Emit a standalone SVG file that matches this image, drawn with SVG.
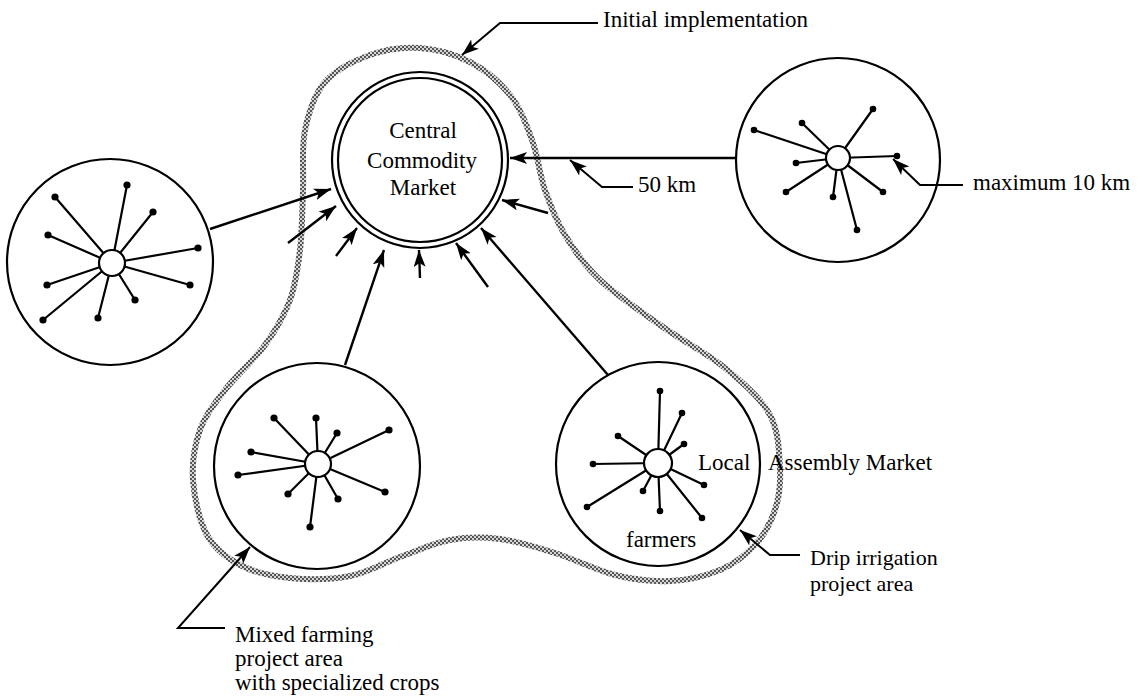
<svg xmlns="http://www.w3.org/2000/svg" width="1146" height="698" viewBox="0 0 1146 698">
<defs>
<pattern id="stipple" width="4" height="4" patternUnits="userSpaceOnUse">
<rect width="4" height="4" fill="#d6d6d6"/>
<rect x="0" y="0" width="2" height="2" fill="#555"/>
<rect x="2" y="2" width="2" height="2" fill="#555"/>
</pattern>
<marker id="ah" markerWidth="19" markerHeight="13" refX="17" refY="6" orient="auto" markerUnits="userSpaceOnUse">
<path d="M0,0 L17,6 L0,12 L4,6 z" fill="#000"/>
</marker>
<style>
.ring{fill:none;stroke:#000;stroke-width:2.2}
.spoke{stroke:#000;stroke-width:2.2;stroke-linecap:round}
.dot{fill:#000}
.hub{fill:#fff;stroke:#000;stroke-width:2.2}
.con{fill:none;stroke:#000;stroke-width:2.4;marker-end:url(#ah)}
.ptr{fill:none;stroke:#000;stroke-width:2;marker-end:url(#ah)}
text{font-family:"Liberation Serif","Times New Roman",serif;font-size:23px;fill:#000}
</style>
</defs>
<rect width="1146" height="698" fill="#fff"/>

<g id="boundary">
<path fill="none" stroke="url(#stipple)" stroke-width="6" d="M420,48 C436.7,49.2 455,54.2 470,62 C485,69.8 499.7,82 510,95 C520.3,108 526.2,124.2 532,140 C537.8,155.8 539.5,174.2 545,190 C550.5,205.8 555.8,220 565,235 C574.2,250 583.7,264.7 600,280 C616.3,295.3 642.2,312.3 663,327 C683.8,341.7 707.2,353.3 725,368 C742.8,382.7 760.8,398 770,415 C779.2,432 779.2,454.2 780,470 C780.8,485.8 779.2,497.5 775,510 C770.8,522.5 764.2,535 755,545 C745.8,555 734.2,564 720,570 C705.8,576 687.5,580.2 670,581 C652.5,581.8 634.2,579.7 615,575 C595.8,570.3 574.2,559 555,553 C535.8,547 517.5,541.2 500,539 C482.5,536.8 466.7,537 450,540 C433.3,543 416.7,551 400,557 C383.3,563 368.3,572.5 350,576 C331.7,579.5 308.3,579.8 290,578 C271.7,576.2 253.8,572.2 240,565 C226.2,557.8 214.8,549.2 207,535 C199.2,520.8 194.2,497.5 193,480 C191.8,462.5 194.7,445 200,430 C205.3,415 214.2,404.2 225,390 C235.8,375.8 254.2,360 265,345 C275.8,330 284.2,315.8 290,300 C295.8,284.2 297.8,268.3 300,250 C302.2,231.7 302.2,210 303,190 C303.8,170 301.3,148 305,130 C308.7,112 314.2,94.5 325,82 C335.8,69.5 354.2,60.7 370,55 C385.8,49.3 403.3,46.8 420,48 Z"/>
</g>

<g id="central-market">
<circle class="ring" cx="420" cy="160" r="88"/>
<circle class="ring" cx="420" cy="160" r="82"/>
<text x="423" y="138" text-anchor="middle">Central</text>
<text x="422" y="168" text-anchor="middle">Commodity</text>
<text x="423" y="195" text-anchor="middle">Market</text>
</g>

<g id="left-area">
<circle class="ring" cx="110" cy="262" r="103"/>
<line class="spoke" x1="112" y1="263" x2="55" y2="197"/>
<line class="spoke" x1="112" y1="263" x2="127" y2="185"/>
<line class="spoke" x1="112" y1="263" x2="153" y2="212"/>
<line class="spoke" x1="112" y1="263" x2="48" y2="235"/>
<line class="spoke" x1="112" y1="263" x2="198" y2="248"/>
<line class="spoke" x1="112" y1="263" x2="190" y2="285"/>
<line class="spoke" x1="112" y1="263" x2="47" y2="285"/>
<line class="spoke" x1="112" y1="263" x2="135" y2="300"/>
<line class="spoke" x1="112" y1="263" x2="43" y2="320"/>
<line class="spoke" x1="112" y1="263" x2="98" y2="318"/>
<circle class="dot" cx="55" cy="197" r="3.6"/>
<circle class="dot" cx="127" cy="185" r="3.6"/>
<circle class="dot" cx="153" cy="212" r="3.6"/>
<circle class="dot" cx="48" cy="235" r="3.6"/>
<circle class="dot" cx="198" cy="248" r="3.6"/>
<circle class="dot" cx="190" cy="285" r="3.6"/>
<circle class="dot" cx="47" cy="285" r="3.6"/>
<circle class="dot" cx="135" cy="300" r="3.6"/>
<circle class="dot" cx="43" cy="320" r="3.6"/>
<circle class="dot" cx="98" cy="318" r="3.6"/>
<circle class="hub" cx="112" cy="263" r="13"/>
</g>

<g id="right-area">
<circle class="ring" cx="838" cy="160" r="102"/>
<line class="spoke" x1="838" y1="158" x2="754" y2="130"/>
<line class="spoke" x1="838" y1="158" x2="802" y2="123"/>
<line class="spoke" x1="838" y1="158" x2="873" y2="109"/>
<line class="spoke" x1="838" y1="158" x2="796" y2="163"/>
<line class="spoke" x1="838" y1="158" x2="897" y2="156"/>
<line class="spoke" x1="838" y1="158" x2="786" y2="192"/>
<line class="spoke" x1="838" y1="158" x2="833" y2="197"/>
<line class="spoke" x1="838" y1="158" x2="857" y2="230"/>
<line class="spoke" x1="838" y1="158" x2="883" y2="192"/>
<circle class="dot" cx="754" cy="130" r="3.3"/>
<circle class="dot" cx="802" cy="123" r="3.3"/>
<circle class="dot" cx="873" cy="109" r="3.3"/>
<circle class="dot" cx="796" cy="163" r="3.3"/>
<circle class="dot" cx="897" cy="156" r="3.3"/>
<circle class="dot" cx="786" cy="192" r="3.3"/>
<circle class="dot" cx="833" cy="197" r="3.3"/>
<circle class="dot" cx="857" cy="230" r="3.3"/>
<circle class="dot" cx="883" cy="192" r="3.3"/>
<circle class="hub" cx="838" cy="158" r="12"/>
</g>

<g id="mixed-farming-area">
<circle class="ring" cx="317" cy="466" r="103"/>
<line class="spoke" x1="318" y1="464" x2="274" y2="418"/>
<line class="spoke" x1="318" y1="464" x2="316" y2="418"/>
<line class="spoke" x1="318" y1="464" x2="337" y2="433"/>
<line class="spoke" x1="318" y1="464" x2="389" y2="430"/>
<line class="spoke" x1="318" y1="464" x2="251" y2="452"/>
<line class="spoke" x1="318" y1="464" x2="238" y2="475"/>
<line class="spoke" x1="318" y1="464" x2="385" y2="492"/>
<line class="spoke" x1="318" y1="464" x2="288" y2="494"/>
<line class="spoke" x1="318" y1="464" x2="338" y2="499"/>
<line class="spoke" x1="318" y1="464" x2="310" y2="527"/>
<circle class="dot" cx="274" cy="418" r="3.6"/>
<circle class="dot" cx="316" cy="418" r="3.6"/>
<circle class="dot" cx="337" cy="433" r="3.6"/>
<circle class="dot" cx="389" cy="430" r="3.6"/>
<circle class="dot" cx="251" cy="452" r="3.6"/>
<circle class="dot" cx="238" cy="475" r="3.6"/>
<circle class="dot" cx="385" cy="492" r="3.6"/>
<circle class="dot" cx="288" cy="494" r="3.6"/>
<circle class="dot" cx="338" cy="499" r="3.6"/>
<circle class="dot" cx="310" cy="527" r="3.6"/>
<circle class="hub" cx="318" cy="464" r="13"/>
</g>

<g id="drip-irrigation-area">
<circle class="ring" cx="658" cy="464" r="102"/>
<line class="spoke" x1="658" y1="463" x2="660" y2="391"/>
<line class="spoke" x1="658" y1="463" x2="682" y2="413"/>
<line class="spoke" x1="658" y1="463" x2="618" y2="436"/>
<line class="spoke" x1="658" y1="463" x2="684" y2="444"/>
<line class="spoke" x1="658" y1="463" x2="593" y2="464"/>
<line class="spoke" x1="658" y1="463" x2="704" y2="485"/>
<line class="spoke" x1="658" y1="463" x2="587" y2="507"/>
<line class="spoke" x1="658" y1="463" x2="643" y2="491"/>
<line class="spoke" x1="658" y1="463" x2="660" y2="511"/>
<line class="spoke" x1="658" y1="463" x2="702" y2="518"/>
<circle class="dot" cx="660" cy="391" r="3.3"/>
<circle class="dot" cx="682" cy="413" r="3.3"/>
<circle class="dot" cx="618" cy="436" r="3.3"/>
<circle class="dot" cx="684" cy="444" r="3.3"/>
<circle class="dot" cx="593" cy="464" r="3.3"/>
<circle class="dot" cx="704" cy="485" r="3.3"/>
<circle class="dot" cx="587" cy="507" r="3.3"/>
<circle class="dot" cx="643" cy="491" r="3.3"/>
<circle class="dot" cx="660" cy="511" r="3.3"/>
<circle class="dot" cx="702" cy="518" r="3.3"/>
<circle class="hub" cx="658" cy="463" r="14"/>
<text x="698" y="470">Local</text>
<text x="768" y="470">Assembly Market</text>
<text x="626" y="547">farmers</text>
</g>

<g id="connectors">
<line class="con" x1="210" y1="229" x2="331" y2="189"/>
<line class="con" x1="288" y1="243" x2="336" y2="206"/>
<line class="con" x1="336" y1="256" x2="357" y2="228"/>
<line class="con" x1="345" y1="365" x2="384" y2="250"/>
<line class="con" x1="420" y1="278" x2="419" y2="250"/>
<line class="con" x1="488" y1="287" x2="456" y2="243"/>
<line class="con" x1="608" y1="375" x2="481" y2="228"/>
<line class="con" x1="548" y1="213" x2="502" y2="200"/>
<line class="con" x1="736" y1="158" x2="510" y2="158"/>
</g>

<g id="labels">
<polyline class="ptr" points="598,23 500,23 462,55"/>
<text x="603" y="27">Initial implementation</text>
<polyline class="ptr" points="633,187 602,187 570,160"/>
<text x="638" y="192">50 km</text>
<polyline class="ptr" points="963,185 920,185 893,159"/>
<text x="973" y="190">maximum 10 km</text>
<polyline class="ptr" points="800,555 770,555 740,530"/>
<text x="810" y="565" style="font-size:22px">Drip irrigation</text>
<text x="810" y="591" style="font-size:22px">project area</text>
<polyline class="ptr" points="225,628 178,628 250,547"/>
<text x="235" y="642">Mixed farming</text>
<text x="235" y="666">project area</text>
<text x="235" y="690">with specialized crops</text>
</g>
</svg>
